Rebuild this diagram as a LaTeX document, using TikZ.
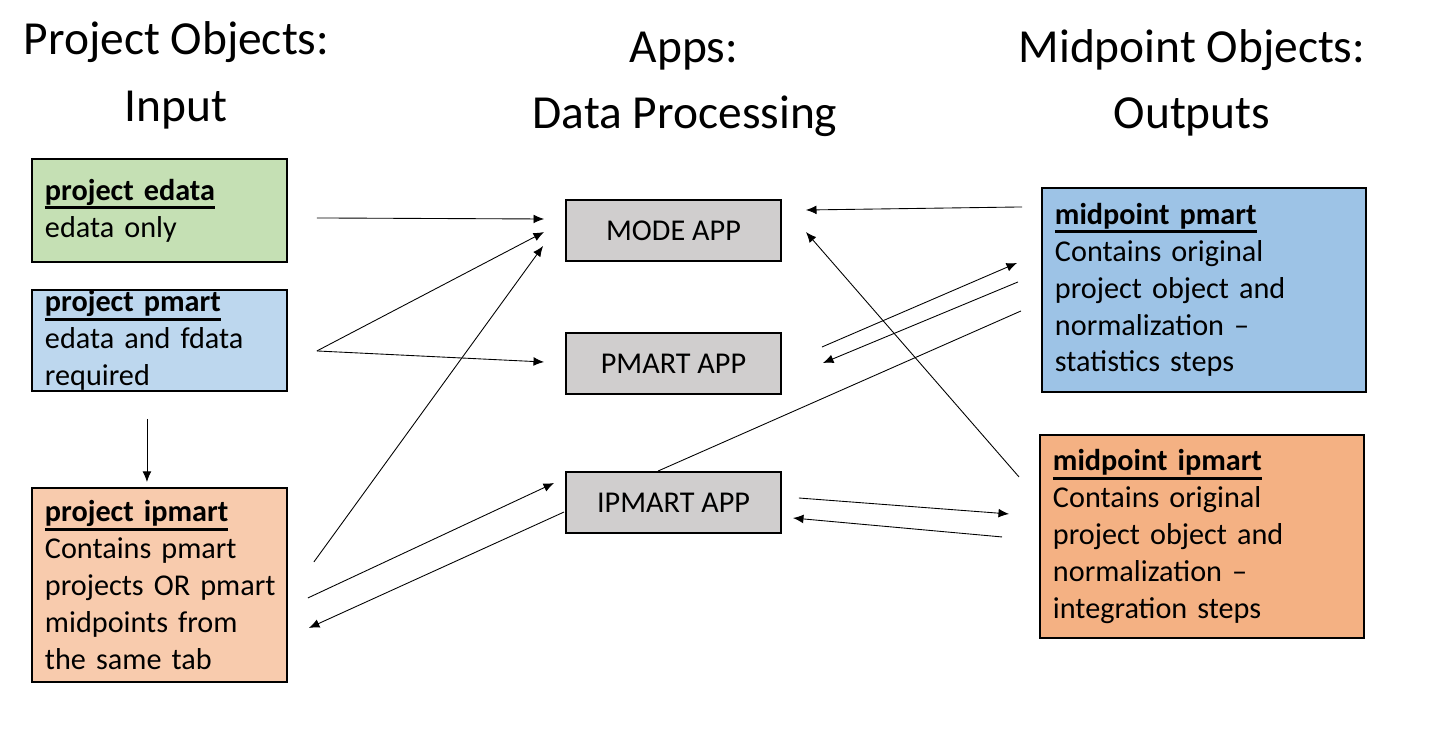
\documentclass[tikz,border=0pt]{standalone}
\usepackage{fontspec}
\setmainfont{Carlito}
\usetikzlibrary{calc}
\usetikzlibrary{arrows.meta}

\definecolor{edatagreen}{HTML}{C5E0B4}
\definecolor{pmartblue}{HTML}{BDD7EE}
\definecolor{ipmartpeach}{HTML}{F8CBAD}
\definecolor{appgray}{HTML}{D0CECE}
\definecolor{midblue}{HTML}{9DC3E6}
\definecolor{midorange}{HTML}{F4B183}

\newcommand{\objhead}[1]{\textbf{\setbox0\hbox{#1}\rlap{\rule[-0.3em]{\wd0}{1.7pt}}\box0}}

\begin{document}
\begin{tikzpicture}[x=0.02cm, y=-0.02cm,
		title/.style={anchor=base, inner sep=0pt, font=\fontsize{27}{32}\selectfont},
		objbox/.style={draw, line width=1.1pt, anchor=north west, align=left, inner xsep=0.1cm, inner ysep=0pt,
			execute at begin node={\leftskip=0.16cm}, font=\fontsize{17.2}{21}\selectfont},
		appbox/.style={draw, line width=1.1pt, fill=appgray, minimum width=4.3cm, minimum height=1.22cm, font=\fontsize{17.2}{21}\selectfont},
		flow/.style={line width=0.5pt, -{Latex[length=6pt, width=5pt]}}]
		\useasboundingbox (0, 0) rectangle (1432, 730);

		\node (inputtitle) [title] at (176.5, 54) {Project Objects:};
		\node (inputsub) [title] at (176, 121) {Input};
		\node (apptitle) [title] at (684, 62) {Apps:};
		\node (appsub) [title] at (685, 128) {Data Processing};
		\node (outtitle) [title] at (1192, 62) {Midpoint Objects:};
		\node (outsub) [title] at (1192, 128) {Outputs};

		\node (edata) [objbox, fill = edatagreen, text width = 4.9cm, minimum height = 2.06cm] at (31, 158)
			{\objhead{project edata}\\ edata only};
		\node (pmart) [objbox, fill = pmartblue, text width = 4.9cm, minimum height = 2.02cm] at (31, 289)
			{\objhead{project pmart}\\ edata and fdata\\ required};
		\node (ipmart) [objbox, fill = ipmartpeach, text width = 4.9cm, minimum height = 3.88cm] at (31, 487)
			{\objhead{project ipmart}\\ Contains pmart\\ projects OR pmart\\ midpoints from\\ the same tab};

		\node (mode) [appbox] at (673.5, 230.5) {MODE APP};
		\node (pmartapp) [appbox] at (673.5, 363.5) {PMART APP};
		\node (ipmartapp) [appbox] at (673.5, 502.5) {IPMART APP};

		\node (midpmart) [objbox, fill = midblue, text width = 6.28cm, minimum height = 4.08cm] at (1041, 187)
			{\objhead{midpoint pmart}\\ Contains original\\ project object and\\ normalization --\\ statistics steps};
		\node (midipmart) [objbox, fill = midorange, text width = 6.28cm, minimum height = 4.06cm] at (1039, 434)
			{\objhead{midpoint ipmart}\\ Contains original\\ project object and\\ normalization --\\ integration steps};

		\draw [flow] ($(edata.east) + (29, 7.5)$) -- ($(mode.west) + (-21, -11.5)$);
		\draw [flow] ($(pmart.east) + (29, 10.5)$) -- ($(mode.west) + (-21, 1.5)$);
		\draw [flow] ($(pmart.east) + (29, 10.5)$) -- ($(pmartapp.west) + (-21, -1.5)$);
		\draw [flow] ($(ipmart.east) + (26, -23)$) -- ($(mode.west) + (-22, 15.5)$);
		\draw [flow] ($(ipmart.east) + (20, 13)$) -- ($(ipmartapp.west) + (-11, -19.5)$);
		\draw [flow] ($(ipmartapp.west) + (-1, 9.5)$) -- ($(ipmart.east) + (21, 43)$);
		\draw [flow] ($(pmart.south) + (-12.5, 27)$) -- ($(ipmart.north) + (-12.5, -5)$);

		\draw [flow] ($(midpmart.west) + (-19, -83)$) -- ($(mode.east) + (24, -20.5)$);
		\draw [flow] ($(midipmart.west) + (-20, -59.5)$) -- ($(mode.east) + (24, 1.5)$);
		\draw [flow] ($(pmartapp.east) + (40, -16.5)$) -- ($(midpmart.west) + (-24, -27)$);
		\draw [flow] ($(midpmart.west) + (-23, -8)$) -- ($(pmartapp.east) + (41, -0.5)$);
		\draw [line width = 0.5pt] ($(midpmart.west) + (-20, 21)$) -- ($(ipmartapp.north) + (-15.5, 0)$);
		\draw [flow] ($(ipmartapp.east) + (17, -4.5)$) -- ($(midipmart.west) + (-30, -22.5)$);
		\draw [flow] ($(midipmart.west) + (-37, 0.5)$) -- ($(ipmartapp.east) + (11, 15.5)$);
	\end{tikzpicture}
\end{document}
